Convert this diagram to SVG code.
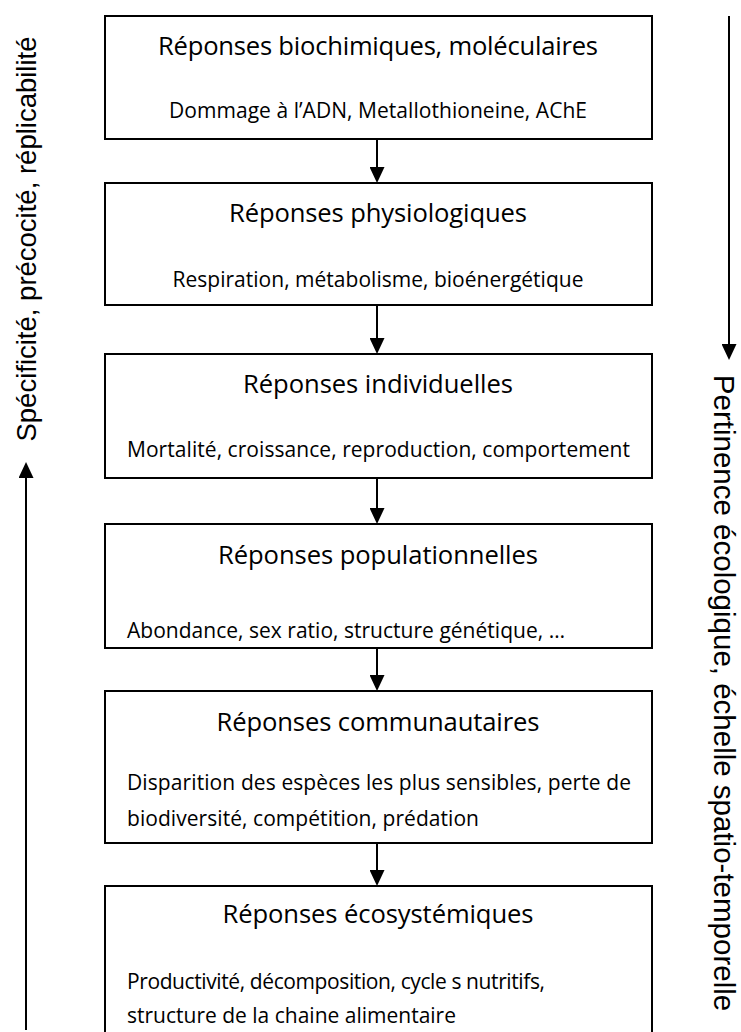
<svg xmlns="http://www.w3.org/2000/svg" width="741" height="1032" viewBox="0 0 741 1032">
  <style>
    .box { fill: #ffffff; stroke: #000000; stroke-width: 2; }
    .title { font-family: "Open Sans", "Liberation Sans", sans-serif; font-size: 25.6px; fill: #000000; text-anchor: middle; }
    .sub { font-family: "Open Sans", "Liberation Sans", sans-serif; font-size: 21px; fill: #000000; }
    .mid { text-anchor: middle; }
    .side { font-family: "Liberation Sans", Arial, sans-serif; fill: #000000; text-anchor: middle; }
    .conn { stroke: #000000; stroke-width: 2; fill: none; marker-end: url(#ah); }
  </style>
  <defs>
    <marker id="ah" viewBox="0 0 16 15" refX="10" refY="7.5" markerWidth="16" markerHeight="15" markerUnits="userSpaceOnUse" orient="auto">
      <path d="M0,0 L16,7.5 L0,15 z" fill="#000000"/>
    </marker>
  </defs>
  <rect width="741" height="1032" fill="#ffffff"/>

  <g id="node-biochimiques">
    <rect class="box" x="105" y="16" width="547" height="123"/>
    <text class="title" x="378" y="55" textLength="440">Réponses biochimiques, moléculaires</text>
    <text class="sub mid" x="378" y="118" textLength="418">Dommage à l’ADN, Metallothioneine, AChE</text>
  </g>
  <g id="node-physiologiques">
    <rect class="box" x="105" y="183" width="547" height="122"/>
    <text class="title" x="378" y="222" textLength="298">Réponses physiologiques</text>
    <text class="sub mid" x="378" y="287" textLength="411">Respiration, métabolisme, bioénergétique</text>
  </g>
  <g id="node-individuelles">
    <rect class="box" x="105" y="354" width="547" height="124"/>
    <text class="title" x="378" y="393" textLength="270">Réponses individuelles</text>
    <text class="sub" x="127" y="457" textLength="503">Mortalité, croissance, reproduction, comportement</text>
  </g>
  <g id="node-populationnelles">
    <rect class="box" x="105" y="524" width="547" height="124"/>
    <text class="title" x="378" y="564" textLength="320">Réponses populationnelles</text>
    <text class="sub" x="127" y="638" textLength="438">Abondance, sex ratio, structure génétique, …</text>
  </g>
  <g id="node-communautaires">
    <rect class="box" x="105" y="691" width="547" height="152"/>
    <text class="title" x="378" y="731" textLength="323">Réponses communautaires</text>
    <text class="sub" x="127" y="790" textLength="504">Disparition des espèces les plus sensibles, perte de</text>
    <text class="sub" x="127" y="826" textLength="352">biodiversité, compétition, prédation</text>
  </g>
  <g id="node-ecosystemiques">
    <rect class="box" x="105" y="886" width="547" height="160"/>
    <text class="title" x="378" y="923" textLength="311">Réponses écosystémiques</text>
    <text class="sub" x="127" y="989" textLength="418">Productivité, décomposition, cycle s nutritifs,</text>
    <text class="sub" x="127" y="1023" textLength="329">structure de la chaine alimentaire</text>
  </g>

  <g id="connectors">
    <line class="conn" x1="377" y1="139" x2="377" y2="177"/>
    <line class="conn" x1="377" y1="305" x2="377" y2="348"/>
    <line class="conn" x1="377" y1="478" x2="377" y2="518"/>
    <line class="conn" x1="377" y1="648" x2="377" y2="685"/>
    <line class="conn" x1="377" y1="843" x2="377" y2="880"/>
    <line class="conn" x1="26" y1="1030" x2="26" y2="468"/>
    <line class="conn" x1="729" y1="16" x2="729" y2="354"/>
  </g>

  <g id="side-labels">
    <text class="side" font-size="27.5" transform="translate(36,239) rotate(-90)">Spécificité, précocité, réplicabilité</text>
    <text class="side" font-size="29.5" transform="translate(714,693) rotate(90)">Pertinence écologique, échelle spatio-temporelle</text>
  </g>
</svg>
